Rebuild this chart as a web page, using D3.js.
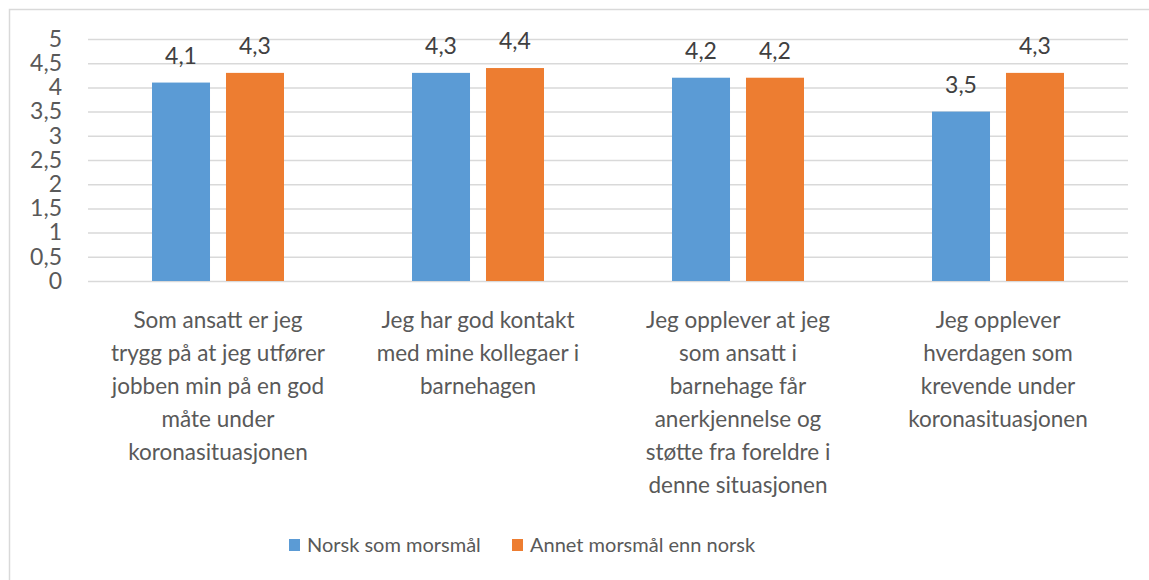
<!DOCTYPE html>
<html>
<head>
<meta charset="utf-8">
<script src="https://cdn.jsdelivr.net/npm/d3@7"></script>
<style>
  body { margin: 0; background: #fff; }
  text { font-family: Lato, "Open Sans", sans-serif; }
</style>
</head>
<body>
<div id="chart"></div>
<script>
// data
var categories = [
  ["Som ansatt er jeg", "trygg på at jeg utfører", "jobben min på en god", "måte under", "koronasituasjonen"],
  ["Jeg har god kontakt", "med mine kollegaer i", "barnehagen"],
  ["Jeg opplever at jeg", "som ansatt i", "barnehage får", "anerkjennelse og", "støtte fra foreldre i", "denne situasjonen"],
  ["Jeg opplever", "hverdagen som", "krevende under", "koronasituasjonen"]
];
var seriesNames = ["Norsk som morsmål", "Annet morsmål enn norsk"];
var norsk = [4.1, 4.3, 4.2, 3.5];
var annet = [4.3, 4.4, 4.2, 4.3];
var yTicks = [0, 0.5, 1, 1.5, 2, 2.5, 3, 3.5, 4, 4.5, 5];

var colors = ["#5B9BD5", "#ED7D31"];
var textColor = "#595959";

var svgWidth = 1149;
var svgHeight = 580;

var plot = { left: 88, right: 1128, top: 39, bottom: 281 };

var svg = d3.select("#chart")
  .append("svg")
  .attr("width", svgWidth)
  .attr("height", svgHeight);

// chart frame (right/bottom edges fall outside the picture)
svg.append("rect")
  .attr("x", 9.5)
  .attr("y", 9.5)
  .attr("width", 1200)
  .attr("height", 600)
  .attr("fill", "none")
  .attr("stroke", "#d9d9d9")
  .attr("stroke-width", 1.5);

var keys = categories.map((c, i) => "c" + i);

var x0 = d3.scaleBand()
  .domain(keys)
  .range([plot.left, plot.right])
  .paddingInner(0)
  .paddingOuter(0);

var x1 = d3.scaleBand()
  .domain([0, 1])
  .range([0, x0.bandwidth()])
  .paddingInner(0.216)
  .paddingOuter(0.865);

var y = d3.scaleLinear()
  .domain([0, 5])
  .range([plot.bottom, plot.top]);

// y axis with gridlines
var leftAxis = d3.axisLeft(y)
  .tickValues(yTicks)
  .tickSize(-(plot.right - plot.left))
  .tickPadding(26)
  .tickFormat(d => String(d).replace(".", ","));

var yAxis = svg.append("g")
  .attr("transform", `translate(${plot.left},0)`)
  .call(leftAxis);
yAxis.select(".domain").remove();
yAxis.selectAll(".tick line")
  .attr("stroke", "#d9d9d9")
  .attr("stroke-width", 1.5);
yAxis.selectAll(".tick text")
  .attr("fill", textColor)
  .attr("font-size", "23px")
  .attr("font-family", "Lato, sans-serif");

// bars
var rows = categories.map((c, i) => ({ key: keys[i], values: [norsk[i], annet[i]] }));

var groups = svg.selectAll(".cat")
  .data(rows)
  .enter()
  .append("g")
  .attr("class", "cat")
  .attr("transform", d => `translate(${x0(d.key)},0)`);

groups.selectAll("rect")
  .data(d => d.values.map((v, s) => ({ v: v, s: s })))
  .enter()
  .append("rect")
  .attr("x", d => x1(d.s))
  .attr("y", d => y(d.v))
  .attr("width", x1.bandwidth())
  .attr("height", d => y(0) - y(d.v))
  .attr("fill", d => colors[d.s]);

groups.selectAll(".lbl")
  .data(d => d.values.map((v, s) => ({ v: v, s: s })))
  .enter()
  .append("text")
  .attr("class", "lbl")
  .attr("x", d => x1(d.s) + x1.bandwidth() / 2)
  .attr("y", d => y(d.v) - 19)
  .attr("text-anchor", "middle")
  .attr("font-size", "23px")
  .attr("fill", "#404040")
  .text(d => String(d.v).replace(".", ","));

// category labels
var catLabels = svg.selectAll(".catlabel")
  .data(categories)
  .enter()
  .append("text")
  .attr("class", "catlabel")
  .attr("text-anchor", "middle")
  .attr("font-size", "22.5px")
  .attr("fill", textColor);

catLabels.selectAll("tspan")
  .data((d, i) => d.map(line => ({ line: line, key: keys[i] })))
  .enter()
  .append("tspan")
  .attr("x", d => x0(d.key) + x0.bandwidth() / 2)
  .attr("y", (d, j) => 328 + j * 33)
  .text(d => d.line);

// legend
var legendX = [289, 512];
var legend = svg.selectAll(".legend")
  .data(seriesNames)
  .enter()
  .append("g")
  .attr("class", "legend")
  .attr("transform", (d, i) => `translate(${legendX[i]},539)`);

legend.append("rect")
  .attr("width", 11)
  .attr("height", 12)
  .attr("fill", (d, i) => colors[i]);

legend.append("text")
  .attr("x", 18)
  .attr("y", 13)
  .attr("font-size", "20px")
  .attr("fill", textColor)
  .text(d => d);
</script>
</body>
</html>
